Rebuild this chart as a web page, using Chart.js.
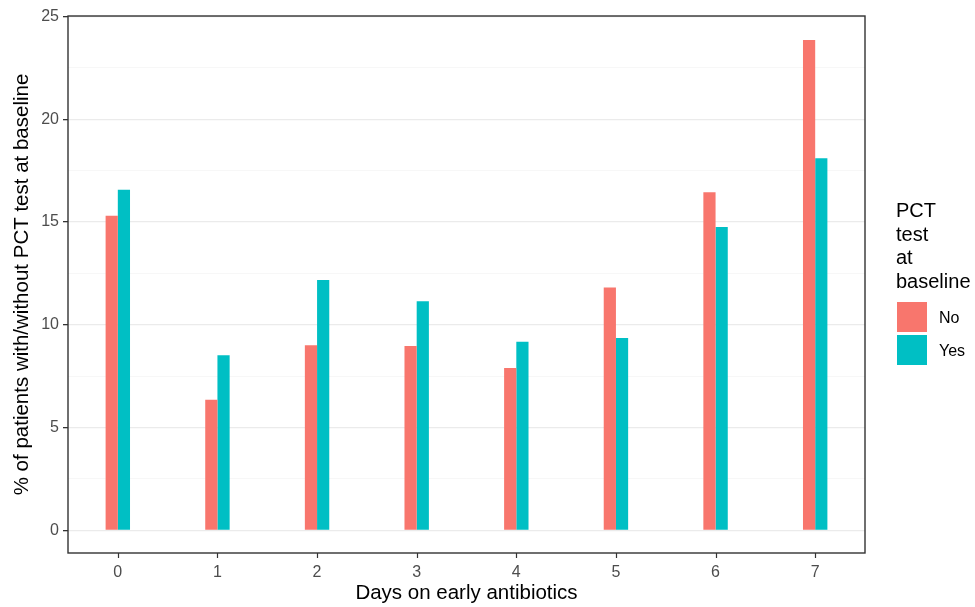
<!DOCTYPE html>
<html>
<head>
<meta charset="utf-8">
<script src="https://cdn.jsdelivr.net/npm/chart.js@4.4.0/dist/chart.umd.min.js"></script>
<style>
    html, body { margin: 0; padding: 0; background: #fff; }
    #wrap { position: relative; width: 975px; height: 607px; }
    #legend {
        position: absolute; left: 896px; top: 199px;
        font-family: "Liberation Sans", Arial, sans-serif; color: #000;
    }
    #legend .title { font-size: 20px; line-height: 23.5px; }
    #legend .item { display: flex; align-items: center; height: 33px; }
    #legend .key { width: 30px; height: 30px; margin: 1px 12px 2px 1px; }
    #legend .label { font-size: 16px; }
</style>
</head>
<body>
<div id="wrap">
    <canvas id="chart" width="975" height="607"></canvas>
    <div id="legend">
        <div class="title">PCT<br>test<br>at<br>baseline</div>
        <div style="height:8px"></div>
        <div class="item"><div class="key" style="background:#F8766D"></div><span class="label">No</span></div>
        <div class="item"><div class="key" style="background:#00BFC4"></div><span class="label">Yes</span></div>
    </div>
</div>
<script>
const days = ['0', '1', '2', '3', '4', '5', '6', '7'];
const noPct = [15.3, 6.35, 9.0, 8.97, 7.9, 11.82, 16.45, 23.85];
const yesPct = [16.57, 8.52, 12.18, 11.14, 9.18, 9.36, 14.76, 18.1];
const yTicks = [0, 2.5, 5, 7.5, 10, 12.5, 15, 17.5, 20, 22.5, 25];

const fontFamily = '"Liberation Sans", Arial, sans-serif';

// panel border + x tick marks, ggplot theme_bw style
const panelBorder = {
    id: 'panelBorder',
    afterDraw(chart) {
        const {ctx, chartArea} = chart;
        const xScale = chart.scales.x;
        ctx.save();
        ctx.strokeStyle = '#333333';
        ctx.lineWidth = 1.4;
        ctx.strokeRect(chartArea.left, chartArea.top, chartArea.right - chartArea.left, chartArea.bottom - chartArea.top);
        ctx.lineWidth = 1.2;
        ctx.beginPath();
        days.forEach((d, i) => {
            const x = Math.round(xScale.getPixelForValue(i)) + 0.5;
            ctx.moveTo(x, chartArea.bottom);
            ctx.lineTo(x, chartArea.bottom + 5);
        });
        ctx.stroke();
        ctx.restore();
    }
};

const isMajor = (v) => Math.abs(v % 5) < 1e-6;

const ctx = document.getElementById('chart').getContext('2d');
new Chart(ctx, {
    type: 'bar',
    data: {
        labels: days,
        datasets: [
            {
                label: 'No',
                data: noPct,
                backgroundColor: '#F8766D',
                categoryPercentage: 0.245,
                barPercentage: 1,
            },
            {
                label: 'Yes',
                data: yesPct,
                backgroundColor: '#00BFC4',
                categoryPercentage: 0.245,
                barPercentage: 1,
            },
        ],
    },
    options: {
        responsive: false,
        animation: false,
        layout: {
            padding: { top: 16, right: 110, left: 0, bottom: 0 },
        },
        scales: {
            x: {
                offset: true,
                border: { display: false },
                grid: {
                    drawOnChartArea: false,
                    drawTicks: true,
                    tickLength: 5,
                    tickColor: 'rgba(0,0,0,0)',
                },
                ticks: {
                    color: '#4d4d4d',
                    padding: 5,
                    font: { family: fontFamily, size: 16 },
                },
                title: {
                    display: true,
                    text: 'Days on early antibiotics',
                    color: '#000',
                    padding: { top: 0, bottom: 1 },
                    font: { family: fontFamily, size: 20.5 },
                },
                afterFit(scale) { scale.height = 54; },
            },
            y: {
                min: -1.1,
                max: 25.02,
                border: { display: false },
                afterBuildTicks(scale) {
                    scale.ticks = yTicks.map(v => ({ value: v }));
                },
                grid: {
                    color: (c) => isMajor(c.tick.value) ? '#ebebeb' : '#f5f5f5',
                    lineWidth: (c) => isMajor(c.tick.value) ? 1.3 : 0.8,
                    tickColor: (c) => isMajor(c.tick.value) ? '#333333' : 'rgba(0,0,0,0)',
                    tickLength: 5,
                },
                ticks: {
                    color: '#4d4d4d',
                    padding: 4,
                    autoSkip: false,
                    font: { family: fontFamily, size: 16 },
                    callback: (v) => isMajor(v) ? String(v) : '',
                },
                title: {
                    display: true,
                    text: '% of patients with/without PCT test at baseline',
                    color: '#000',
                    padding: { top: 10, bottom: 0 },
                    font: { family: fontFamily, size: 20.5 },
                },
                afterFit(scale) { scale.width = 68; },
            },
        },
        plugins: {
            legend: { display: false },
            tooltip: { enabled: false },
        },
    },
    plugins: [panelBorder],
});
</script>
</body>
</html>
